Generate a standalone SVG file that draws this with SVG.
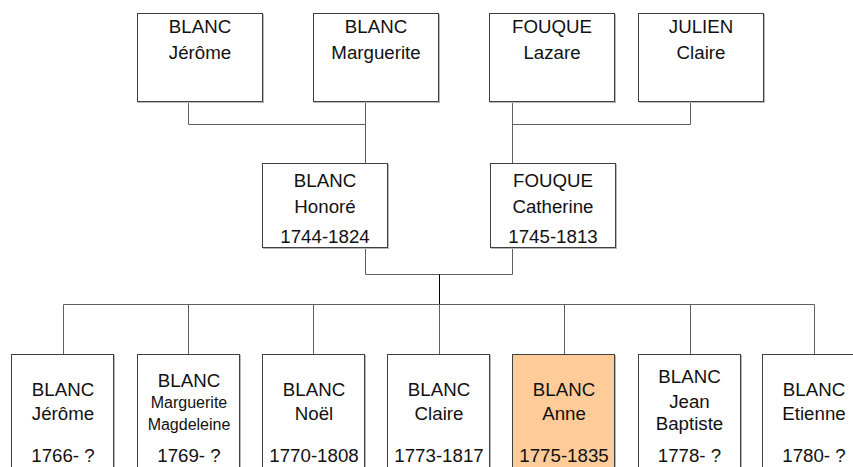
<svg xmlns="http://www.w3.org/2000/svg" width="853" height="467" viewBox="0 0 853 467">
<style>
.bx{fill:#fff;stroke:#404040;stroke-width:1}
.hl{fill:#ffcc99}
.sh{fill:none;stroke:#b8b8b8;stroke-width:1}
.t{font-family:"Liberation Sans",Arial,sans-serif;font-size:18.7px;fill:#111;text-anchor:middle}
.s{font-size:16px}
.c{fill:none;stroke:#606060;stroke-width:1}
.k{stroke:#000}
</style>
<rect width="853" height="467" fill="#fff"/>
<g id="connectors">
<polyline class="c" points="188.5,102 188.5,124.5 365.5,124.5"/>
<line class="c" x1="365.5" y1="102" x2="365.5" y2="163"/>
<polyline class="c" points="690.5,102 690.5,124.5 512.5,124.5"/>
<line class="c" x1="512.5" y1="102" x2="512.5" y2="163"/>
<polyline class="c" points="365.5,248 365.5,274.5 512.5,274.5 512.5,248"/>
<line class="c k" x1="439.5" y1="274.5" x2="439.5" y2="304"/>
<line class="c" x1="63.5" y1="304.5" x2="814.5" y2="304.5"/>
<line class="c" x1="63.5" y1="304.5" x2="63.5" y2="354"/>
<line class="c" x1="188.5" y1="304.5" x2="188.5" y2="354"/>
<line class="c" x1="313.5" y1="304.5" x2="313.5" y2="354"/>
<line class="c" x1="439.5" y1="304.5" x2="439.5" y2="354"/>
<line class="c" x1="564.5" y1="304.5" x2="564.5" y2="354"/>
<line class="c" x1="690.5" y1="304.5" x2="690.5" y2="354"/>
<line class="c" x1="814.5" y1="304.5" x2="814.5" y2="354"/>
</g>
<g id="blanc-jerome-gp">
<rect class="sh" x="138.5" y="14.5" width="125" height="88"/>
<rect class="bx" x="137.5" y="13.5" width="125" height="88"/>
<text class="t" x="200" y="33">BLANC</text>
<text class="t" x="200" y="59">Jérôme</text>
</g>
<g id="blanc-marguerite-gp">
<rect class="sh" x="314.5" y="14.5" width="125" height="88"/>
<rect class="bx" x="313.5" y="13.5" width="125" height="88"/>
<text class="t" x="376" y="33">BLANC</text>
<text class="t" x="376" y="59">Marguerite</text>
</g>
<g id="fouque-lazare">
<rect class="sh" x="490.5" y="14.5" width="125" height="88"/>
<rect class="bx" x="489.5" y="13.5" width="125" height="88"/>
<text class="t" x="552" y="33">FOUQUE</text>
<text class="t" x="552" y="59">Lazare</text>
</g>
<g id="julien-claire">
<rect class="sh" x="639.5" y="14.5" width="125" height="88"/>
<rect class="bx" x="638.5" y="13.5" width="125" height="88"/>
<text class="t" x="701" y="33">JULIEN</text>
<text class="t" x="701" y="59">Claire</text>
</g>
<g id="blanc-honore">
<rect class="sh" x="263.5" y="164.5" width="125" height="84"/>
<rect class="bx" x="262.5" y="163.5" width="125" height="84"/>
<text class="t" x="325" y="187">BLANC</text>
<text class="t" x="325" y="213">Honoré</text>
<text class="t" x="325" y="243">1744-1824</text>
</g>
<g id="fouque-catherine">
<rect class="sh" x="491.5" y="164.5" width="125" height="84"/>
<rect class="bx" x="490.5" y="163.5" width="125" height="84"/>
<text class="t" x="553" y="187">FOUQUE</text>
<text class="t" x="553" y="213">Catherine</text>
<text class="t" x="553" y="243">1745-1813</text>
</g>
<g id="blanc-jerome">
<rect class="sh" x="12.5" y="355.5" width="102" height="130"/>
<rect class="bx" x="11.5" y="354.5" width="102" height="130"/>
<text class="t" x="63" y="396">BLANC</text>
<text class="t" x="63" y="420">Jérôme</text>
<text class="t" x="63" y="462">1766- ?</text>
</g>
<g id="blanc-marguerite-magdeleine">
<rect class="sh" x="138.5" y="355.5" width="102" height="130"/>
<rect class="bx" x="137.5" y="354.5" width="102" height="130"/>
<text class="t" x="189" y="386.5">BLANC</text>
<text class="t s" x="189" y="408">Marguerite</text>
<text class="t s" x="189" y="430">Magdeleine</text>
<text class="t" x="189" y="462">1769- ?</text>
</g>
<g id="blanc-noel">
<rect class="sh" x="263.5" y="355.5" width="102" height="130"/>
<rect class="bx" x="262.5" y="354.5" width="102" height="130"/>
<text class="t" x="314" y="396">BLANC</text>
<text class="t" x="314" y="420">Noël</text>
<text class="t" x="314" y="462">1770-1808</text>
</g>
<g id="blanc-claire">
<rect class="sh" x="388.5" y="355.5" width="102" height="130"/>
<rect class="bx" x="387.5" y="354.5" width="102" height="130"/>
<text class="t" x="439" y="396">BLANC</text>
<text class="t" x="439" y="420">Claire</text>
<text class="t" x="439" y="462">1773-1817</text>
</g>
<g id="blanc-anne">
<rect class="sh" x="513.5" y="355.5" width="102" height="130"/>
<rect class="bx hl" x="512.5" y="354.5" width="102" height="130"/>
<text class="t" x="564" y="396">BLANC</text>
<text class="t" x="564" y="420">Anne</text>
<text class="t" x="564" y="462">1775-1835</text>
</g>
<g id="blanc-jean-baptiste">
<rect class="sh" x="639.5" y="355.5" width="102" height="130"/>
<rect class="bx" x="638.5" y="354.5" width="102" height="130"/>
<text class="t" x="689.5" y="382.5">BLANC</text>
<text class="t" x="689.5" y="408">Jean</text>
<text class="t" x="689.5" y="430">Baptiste</text>
<text class="t" x="689.5" y="462">1778- ?</text>
</g>
<g id="blanc-etienne">
<rect class="sh" x="763.5" y="355.5" width="102" height="130"/>
<rect class="bx" x="762.5" y="354.5" width="102" height="130"/>
<text class="t" x="814" y="396">BLANC</text>
<text class="t" x="814" y="420">Etienne</text>
<text class="t" x="814" y="462">1780- ?</text>
</g>
</svg>
